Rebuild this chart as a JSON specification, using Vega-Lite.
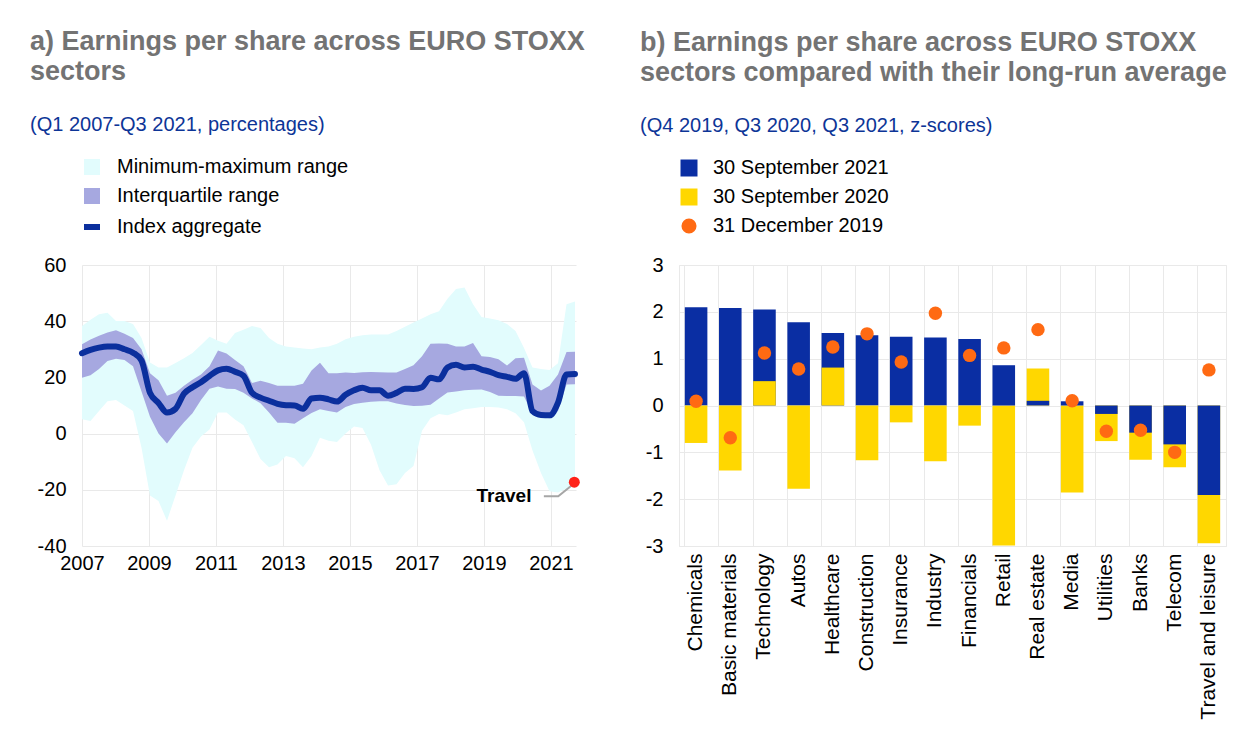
{
"$schema": "https://vega.github.io/schema/vega-lite/v6.json",
"background": "white",
"padding": {"left": 30, "top": 28, "right": 5, "bottom": 5},
"config": {
  "font": "Liberation Sans",
  "view": {"stroke": null},
  "axis": {"domain": false, "ticks": false, "labelFont": "Liberation Sans", "labelFontSize": 20, "labelColor": "#000000", "gridColor": "#e9e9e9", "gridWidth": 1},
  "legend": {"labelFont": "Liberation Sans", "labelFontSize": 20, "labelColor": "#000000", "labelLimit": 400}
},
"bounds": "flush",
"spacing": 103,
"resolve": {"scale": {"color": "independent"}, "legend": {"color": "independent"}},
"hconcat": [
{
  "width": 494,
  "height": 281,
  "title": {"text": ["a) Earnings per share across EURO STOXX", "sectors"], "subtitle": "(Q1 2007-Q3 2021, percentages)", "anchor": "start", "frame": "group", "dx": -52, "font": "Liberation Sans", "fontSize": 27, "fontWeight": "bold", "color": "#737373", "lineHeight": 30, "subtitleFont": "Liberation Sans", "subtitleFontSize": 20, "subtitleColor": "#0d3597", "subtitlePadding": 29, "offset": 21},
  "data": {"values": [
    {"t": 2007.000, "mn": 5.1, "q1": 19.9, "idx": 28.6, "q3": 31.8, "mx": 38.3},
    {"t": 2007.254, "mn": 4.5, "q1": 20.8, "idx": 29.8, "q3": 33.5, "mx": 40.5},
    {"t": 2007.508, "mn": 8.0, "q1": 23.0, "idx": 30.6, "q3": 34.8, "mx": 42.5},
    {"t": 2007.761, "mn": 11.5, "q1": 25.8, "idx": 31.0, "q3": 36.0, "mx": 43.0},
    {"t": 2008.015, "mn": 12.0, "q1": 26.6, "idx": 31.0, "q3": 36.8, "mx": 40.1},
    {"t": 2008.269, "mn": 10.0, "q1": 26.2, "idx": 30.0, "q3": 35.5, "mx": 40.1},
    {"t": 2008.523, "mn": 8.0, "q1": 24.0, "idx": 28.8, "q3": 34.0, "mx": 39.0},
    {"t": 2008.777, "mn": -5.0, "q1": 15.0, "idx": 26.0, "q3": 30.0, "mx": 34.0},
    {"t": 2009.030, "mn": -22.0, "q1": 6.0, "idx": 14.5, "q3": 21.5, "mx": 25.3},
    {"t": 2009.284, "mn": -24.0, "q1": 0.0, "idx": 10.9, "q3": 19.0, "mx": 23.5},
    {"t": 2009.538, "mn": -31.0, "q1": -3.5, "idx": 7.5, "q3": 13.5, "mx": 23.5},
    {"t": 2009.792, "mn": -22.0, "q1": 0.5, "idx": 8.8, "q3": 14.5, "mx": 25.1},
    {"t": 2010.046, "mn": -13.0, "q1": 4.0, "idx": 14.2, "q3": 17.0, "mx": 26.8},
    {"t": 2010.299, "mn": -5.0, "q1": 7.2, "idx": 16.5, "q3": 19.2, "mx": 28.7},
    {"t": 2010.553, "mn": -1.0, "q1": 12.0, "idx": 18.3, "q3": 21.0, "mx": 31.5},
    {"t": 2010.807, "mn": 1.5, "q1": 16.0, "idx": 20.5, "q3": 24.0, "mx": 34.5},
    {"t": 2011.061, "mn": 7.5, "q1": 16.8, "idx": 22.5, "q3": 29.6, "mx": 33.0},
    {"t": 2011.315, "mn": 7.5, "q1": 16.0, "idx": 23.1, "q3": 28.5, "mx": 32.0},
    {"t": 2011.568, "mn": 5.0, "q1": 15.9, "idx": 22.0, "q3": 26.2, "mx": 35.8},
    {"t": 2011.822, "mn": 3.0, "q1": 14.5, "idx": 20.6, "q3": 24.0, "mx": 37.0},
    {"t": 2012.076, "mn": -3.0, "q1": 12.5, "idx": 14.5, "q3": 18.0, "mx": 38.3},
    {"t": 2012.330, "mn": -9.0, "q1": 10.8, "idx": 12.8, "q3": 18.8, "mx": 37.6},
    {"t": 2012.584, "mn": -12.0, "q1": 7.5, "idx": 11.7, "q3": 18.0, "mx": 34.0},
    {"t": 2012.837, "mn": -11.0, "q1": 3.9, "idx": 10.6, "q3": 17.0, "mx": 32.0},
    {"t": 2013.091, "mn": -8.0, "q1": 3.9, "idx": 10.1, "q3": 17.0, "mx": 31.0},
    {"t": 2013.345, "mn": -8.8, "q1": 3.5, "idx": 10.0, "q3": 17.0, "mx": 30.6},
    {"t": 2013.599, "mn": -12.0, "q1": 5.5, "idx": 8.8, "q3": 17.7, "mx": 30.3},
    {"t": 2013.853, "mn": -8.0, "q1": 7.3, "idx": 12.5, "q3": 22.5, "mx": 30.0},
    {"t": 2014.106, "mn": -1.5, "q1": 8.7, "idx": 12.8, "q3": 25.2, "mx": 30.6},
    {"t": 2014.360, "mn": -2.5, "q1": 8.0, "idx": 12.2, "q3": 21.5, "mx": 31.0},
    {"t": 2014.614, "mn": -3.0, "q1": 7.5, "idx": 11.4, "q3": 21.5, "mx": 32.0},
    {"t": 2014.868, "mn": 0.0, "q1": 9.5, "idx": 13.8, "q3": 21.7, "mx": 33.6},
    {"t": 2015.122, "mn": 2.5, "q1": 10.5, "idx": 15.4, "q3": 21.6, "mx": 34.5},
    {"t": 2015.375, "mn": 2.0, "q1": 11.0, "idx": 16.3, "q3": 21.8, "mx": 35.0},
    {"t": 2015.629, "mn": -4.0, "q1": 11.3, "idx": 15.4, "q3": 21.9, "mx": 35.3},
    {"t": 2015.883, "mn": -13.0, "q1": 11.5, "idx": 15.4, "q3": 21.8, "mx": 35.3},
    {"t": 2016.137, "mn": -18.5, "q1": 11.5, "idx": 13.5, "q3": 21.7, "mx": 35.3},
    {"t": 2016.391, "mn": -18.0, "q1": 10.7, "idx": 14.5, "q3": 21.7, "mx": 36.5},
    {"t": 2016.644, "mn": -14.0, "q1": 10.2, "idx": 16.0, "q3": 23.0, "mx": 38.0},
    {"t": 2016.898, "mn": -11.5, "q1": 9.8, "idx": 15.9, "q3": 24.3, "mx": 39.5},
    {"t": 2017.152, "mn": 1.0, "q1": 9.9, "idx": 16.5, "q3": 27.5, "mx": 41.0},
    {"t": 2017.406, "mn": 5.5, "q1": 10.3, "idx": 19.9, "q3": 32.0, "mx": 42.5},
    {"t": 2017.660, "mn": 7.0, "q1": 12.5, "idx": 19.3, "q3": 32.1, "mx": 43.5},
    {"t": 2017.913, "mn": 6.5, "q1": 14.6, "idx": 23.5, "q3": 32.0, "mx": 48.0},
    {"t": 2018.167, "mn": 7.5, "q1": 15.0, "idx": 24.5, "q3": 31.0, "mx": 51.5},
    {"t": 2018.421, "mn": 8.7, "q1": 15.4, "idx": 23.5, "q3": 31.0, "mx": 52.0},
    {"t": 2018.675, "mn": 9.0, "q1": 15.6, "idx": 23.8, "q3": 32.2, "mx": 46.0},
    {"t": 2018.929, "mn": 9.5, "q1": 15.7, "idx": 22.8, "q3": 27.5, "mx": 41.5},
    {"t": 2019.182, "mn": 9.5, "q1": 14.8, "idx": 22.0, "q3": 27.3, "mx": 41.0},
    {"t": 2019.436, "mn": 9.3, "q1": 13.5, "idx": 20.8, "q3": 26.5, "mx": 40.3},
    {"t": 2019.690, "mn": 8.7, "q1": 13.4, "idx": 20.2, "q3": 24.2, "mx": 39.0},
    {"t": 2019.944, "mn": 7.2, "q1": 13.4, "idx": 19.5, "q3": 26.8, "mx": 36.5},
    {"t": 2020.198, "mn": 4.0, "q1": 13.2, "idx": 21.5, "q3": 27.0, "mx": 30.5},
    {"t": 2020.451, "mn": -6.0, "q1": 7.0, "idx": 8.0, "q3": 17.5, "mx": 23.5},
    {"t": 2020.705, "mn": -14.0, "q1": 6.0, "idx": 6.6, "q3": 15.3, "mx": 23.0},
    {"t": 2020.959, "mn": -20.5, "q1": 5.5, "idx": 6.5, "q3": 17.0, "mx": 22.6},
    {"t": 2021.213, "mn": -21.0, "q1": 8.0, "idx": 11.0, "q3": 21.0, "mx": 25.0},
    {"t": 2021.467, "mn": -19.5, "q1": 17.5, "idx": 21.0, "q3": 29.0, "mx": 46.0},
    {"t": 2021.720, "mn": -17.5, "q1": 17.6, "idx": 21.2, "q3": 29.1, "mx": 47.0}
  ]},
  "layer": [
    {
      "mark": {"type": "area", "opacity": 1},
      "encoding": {
        "x": {"field": "t", "type": "quantitative", "scale": {"domain": [2007, 2021.75], "nice": false, "zero": false},
              "axis": {"values": [2007, 2009, 2011, 2013, 2015, 2017, 2019, 2021], "format": "d", "title": null, "grid": true, "labelPadding": 7, "labelFlush": false}},
        "y": {"field": "mn", "type": "quantitative", "scale": {"domain": [-40, 60], "nice": false},
              "axis": {"values": [-40, -20, 0, 20, 40, 60], "title": null, "grid": true, "labelPadding": 16, "labelExpr": "replace(datum.label, '\u2212', '-')"}},
        "y2": {"field": "mx"},
        "color": {"datum": "Minimum-maximum range", "type": "nominal",
          "scale": {"domain": ["Minimum-maximum range", "Interquartile range", "Index aggregate"], "range": ["#e2fcfd", "#a6a8e0", "#0b2f9d"]},
          "legend": {"orient": "none", "legendX": 0, "legendY": -108, "title": null, "labelFontSize": 20, "symbolSize": 256, "labelOffset": 15, "rowPadding": 9, "labelLimit": 400, "symbolType": "square",
            "encode": {"symbols": {"update": {
              "shape": {"signal": "datum.label === 'Index aggregate' ? 'stroke' : 'square'"},
              "fill": {"signal": "datum.label === 'Index aggregate' ? 'transparent' : datum.label === 'Interquartile range' ? '#a6a8e0' : '#e2fcfd'"},
              "stroke": {"signal": "datum.label === 'Index aggregate' ? '#0b2f9d' : 'transparent'"},
              "strokeWidth": {"signal": "datum.label === 'Index aggregate' ? 6 : 0"},
              "opacity": {"value": 1}, "fillOpacity": {"value": 1}, "strokeOpacity": {"value": 1}}}}}}
      }
    },
    {
      "mark": {"type": "area", "opacity": 1},
      "encoding": {
        "x": {"field": "t", "type": "quantitative"},
        "y": {"field": "q1", "type": "quantitative"},
        "y2": {"field": "q3"},
        "color": {"datum": "Interquartile range", "type": "nominal",
          "legend": {"orient": "none", "legendX": 0, "legendY": -108, "title": null, "labelFontSize": 20, "symbolSize": 256, "labelOffset": 15, "rowPadding": 9, "labelLimit": 400, "symbolType": "square",
            "encode": {"symbols": {"update": {
              "shape": {"signal": "datum.label === 'Index aggregate' ? 'stroke' : 'square'"},
              "fill": {"signal": "datum.label === 'Index aggregate' ? 'transparent' : datum.label === 'Interquartile range' ? '#a6a8e0' : '#e2fcfd'"},
              "stroke": {"signal": "datum.label === 'Index aggregate' ? '#0b2f9d' : 'transparent'"},
              "strokeWidth": {"signal": "datum.label === 'Index aggregate' ? 6 : 0"},
              "opacity": {"value": 1}, "fillOpacity": {"value": 1}, "strokeOpacity": {"value": 1}}}}}}
      }
    },
    {
      "mark": {"type": "line", "strokeWidth": 6, "interpolate": "monotone", "strokeCap": "round", "strokeJoin": "round"},
      "encoding": {
        "x": {"field": "t", "type": "quantitative"},
        "y": {"field": "idx", "type": "quantitative"},
        "color": {"datum": "Index aggregate", "type": "nominal",
          "legend": {"orient": "none", "legendX": 0, "legendY": -108, "title": null, "labelFontSize": 20, "symbolSize": 256, "labelOffset": 15, "rowPadding": 9, "labelLimit": 400, "symbolType": "square",
            "encode": {"symbols": {"update": {
              "shape": {"signal": "datum.label === 'Index aggregate' ? 'stroke' : 'square'"},
              "fill": {"signal": "datum.label === 'Index aggregate' ? 'transparent' : datum.label === 'Interquartile range' ? '#a6a8e0' : '#e2fcfd'"},
              "stroke": {"signal": "datum.label === 'Index aggregate' ? '#0b2f9d' : 'transparent'"},
              "strokeWidth": {"signal": "datum.label === 'Index aggregate' ? 6 : 0"},
              "opacity": {"value": 1}, "fillOpacity": {"value": 1}, "strokeOpacity": {"value": 1}}}}}}
      }
    },
    {
      "data": {"values": [{"t": 2020.79, "v": -22.3}, {"t": 2021.22, "v": -22.3}, {"t": 2021.62, "v": -18.5}]},
      "mark": {"type": "line", "color": "#a6a6a6", "strokeWidth": 2},
      "encoding": {
        "x": {"field": "t", "type": "quantitative"},
        "y": {"field": "v", "type": "quantitative"}
      }
    },
    {
      "data": {"values": [{"t": 2021.70, "v": -17.3}]},
      "mark": {"type": "point", "filled": true, "color": "#ff2218", "size": 120, "opacity": 1},
      "encoding": {
        "x": {"field": "t", "type": "quantitative"},
        "y": {"field": "v", "type": "quantitative"}
      }
    },
    {
      "data": {"values": [{"t": 2020.42, "v": -22.3, "label": "Travel"}]},
      "mark": {"type": "text", "align": "right", "baseline": "middle", "fontSize": 19, "fontWeight": "bold", "color": "#000000", "font": "Liberation Sans"},
      "encoding": {
        "x": {"field": "t", "type": "quantitative"},
        "y": {"field": "v", "type": "quantitative"},
        "text": {"field": "label"}
      }
    }
  ]
},
{
  "width": 547,
  "height": 281,
  "view": {"stroke": "#e9e9e9"},
  "title": {"text": ["b) Earnings per share across EURO STOXX", "sectors compared with their long-run average"], "subtitle": "(Q4 2019, Q3 2020, Q3 2021, z-scores)", "anchor": "start", "frame": "group", "dx": -39, "font": "Liberation Sans", "fontSize": 27, "fontWeight": "bold", "color": "#737373", "lineHeight": 30, "subtitleFont": "Liberation Sans", "subtitleFontSize": 20, "subtitleColor": "#0d3597", "subtitlePadding": 29, "offset": 21},
  "layer": [
    {
      "data": {"values": [
        {"sector": "Chemicals", "series": "30 September 2021", "value": 2.10},
        {"sector": "Chemicals", "series": "30 September 2020", "value": -0.80},
        {"sector": "Basic materials", "series": "30 September 2021", "value": 2.08},
        {"sector": "Basic materials", "series": "30 September 2020", "value": -1.39},
        {"sector": "Technology", "series": "30 September 2021", "value": 2.05},
        {"sector": "Technology", "series": "30 September 2020", "value": 0.52},
        {"sector": "Autos", "series": "30 September 2021", "value": 1.78},
        {"sector": "Autos", "series": "30 September 2020", "value": -1.78},
        {"sector": "Healthcare", "series": "30 September 2021", "value": 1.55},
        {"sector": "Healthcare", "series": "30 September 2020", "value": 0.81},
        {"sector": "Construction", "series": "30 September 2021", "value": 1.50},
        {"sector": "Construction", "series": "30 September 2020", "value": -1.17},
        {"sector": "Insurance", "series": "30 September 2021", "value": 1.47},
        {"sector": "Insurance", "series": "30 September 2020", "value": -0.36},
        {"sector": "Industry", "series": "30 September 2021", "value": 1.45},
        {"sector": "Industry", "series": "30 September 2020", "value": -1.19},
        {"sector": "Financials", "series": "30 September 2021", "value": 1.42},
        {"sector": "Financials", "series": "30 September 2020", "value": -0.43},
        {"sector": "Retail", "series": "30 September 2020", "value": -2.99},
        {"sector": "Retail", "series": "30 September 2021", "value": 0.86},
        {"sector": "Real estate", "series": "30 September 2020", "value": 0.79},
        {"sector": "Real estate", "series": "30 September 2021", "value": 0.10},
        {"sector": "Media", "series": "30 September 2020", "value": -1.86},
        {"sector": "Media", "series": "30 September 2021", "value": 0.09},
        {"sector": "Utilities", "series": "30 September 2020", "value": -0.76},
        {"sector": "Utilities", "series": "30 September 2021", "value": -0.18},
        {"sector": "Banks", "series": "30 September 2020", "value": -1.16},
        {"sector": "Banks", "series": "30 September 2021", "value": -0.58},
        {"sector": "Telecom", "series": "30 September 2020", "value": -1.32},
        {"sector": "Telecom", "series": "30 September 2021", "value": -0.83},
        {"sector": "Travel and leisure", "series": "30 September 2020", "value": -2.94},
        {"sector": "Travel and leisure", "series": "30 September 2021", "value": -1.91}
      ]},
      "mark": {"type": "bar"},
      "encoding": {
        "x": {"field": "sector", "type": "nominal", "sort": null,
          "scale": {"domain": ["Chemicals", "Basic materials", "Technology", "Autos", "Healthcare", "Construction", "Insurance", "Industry", "Financials", "Retail", "Real estate", "Media", "Utilities", "Banks", "Telecom", "Travel and leisure"], "paddingInner": 0.34, "paddingOuter": 0.17},
          "axis": {"title": null, "labelAngle": -90, "labelAlign": "right", "labelBaseline": "middle", "labelFontSize": 21, "labelPadding": 7, "grid": true, "bandPosition": 0, "labelLimit": 300}},
        "y": {"field": "value", "type": "quantitative", "stack": null, "scale": {"domain": [-3, 3], "nice": false},
          "axis": {"title": null, "values": [-3, -2, -1, 0, 1, 2, 3], "grid": true, "labelPadding": 16, "labelExpr": "replace(datum.label, '\u2212', '-')"}},
        "color": {"field": "series", "type": "nominal",
          "scale": {"domain": ["30 September 2021", "30 September 2020", "31 December 2019"], "range": ["#0a2ea3", "#ffd700", "#ff6a13"]},
          "legend": {"orient": "none", "legendX": 0, "legendY": -107, "title": null, "labelFontSize": 20, "symbolSize": 289, "labelOffset": 14, "rowPadding": 9, "labelLimit": 400,
            "encode": {"symbols": {"update": {
              "shape": {"signal": "datum.label === '31 December 2019' ? 'circle' : 'square'"},
              "size": {"signal": "datum.label === '31 December 2019' ? 227 : 289"},
              "fill": {"signal": "datum.label === '30 September 2021' ? '#0a2ea3' : datum.label === '30 September 2020' ? '#ffd700' : '#ff6a13'"},
              "stroke": {"value": "transparent"}, "strokeWidth": {"value": 0}, "opacity": {"value": 1}, "fillOpacity": {"value": 1}}}}}}
      }
    },
    {
      "data": {"values": [
        {"sector": "Chemicals", "value": 0.09},
        {"sector": "Basic materials", "value": -0.69},
        {"sector": "Technology", "value": 1.12},
        {"sector": "Autos", "value": 0.78},
        {"sector": "Healthcare", "value": 1.25},
        {"sector": "Construction", "value": 1.53},
        {"sector": "Insurance", "value": 0.93},
        {"sector": "Industry", "value": 1.97},
        {"sector": "Financials", "value": 1.07},
        {"sector": "Retail", "value": 1.23},
        {"sector": "Real estate", "value": 1.62},
        {"sector": "Media", "value": 0.10},
        {"sector": "Utilities", "value": -0.55},
        {"sector": "Banks", "value": -0.53},
        {"sector": "Telecom", "value": -1.00},
        {"sector": "Travel and leisure", "value": 0.76}
      ]},
      "mark": {"type": "point", "filled": true, "size": 180, "opacity": 1},
      "encoding": {
        "x": {"field": "sector", "type": "nominal", "sort": null},
        "y": {"field": "value", "type": "quantitative"},
        "color": {"datum": "31 December 2019", "type": "nominal"}
      }
    }
  ]
}
]
}
